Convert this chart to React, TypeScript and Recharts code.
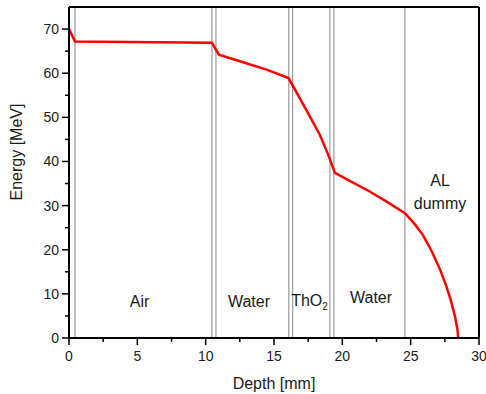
import { Line, LineChart, ReferenceDot, ReferenceLine, XAxis, YAxis } from "recharts";

const depth = [0, 0.44, 10.46, 10.97, 12.5, 14.46, 16.06, 17.2, 18.36, 18.97, 19.46, 22.0, 23.24, 24.58, 25.3, 25.92, 26.55, 27.14, 27.6, 27.95, 28.25, 28.42, 28.48];
const energy = [70, 67.2, 66.9, 64.2, 62.7, 60.8, 58.9, 52.6, 46.0, 41.5, 37.4, 33.2, 30.9, 28.3, 25.8, 23.2, 19.6, 15.6, 11.8, 8.4, 4.8, 2.0, 0];

const boundaries = [0.44, 10.46, 10.75, 16.08, 16.36, 19.09, 19.38, 24.58];
const xTicks = [0, 2.5, 5, 7.5, 10, 12.5, 15, 17.5, 20, 22.5, 25, 27.5, 30];
const yTicks = [0, 5, 10, 15, 20, 25, 30, 35, 40, 45, 50, 55, 60, 65, 70];

const data = depth.map((d, i) => ({ depth: d, energy: energy[i] }));

const FONT = "'Liberation Sans', Arial, sans-serif";
const INK = "#1a1a1a";

function XTick({ x, y, payload }: any) {
  const major = payload.value % 5 === 0;
  return (
    <g>
      <line x1={x} x2={x} y1={y} y2={y + (major ? 7 : 4)} stroke="#000" strokeWidth={1.5} />
      {major && (
        <text x={x} y={y + 18} textAnchor="middle" dominantBaseline="central" fontSize={14} fill={INK} fontFamily={FONT}>
          {payload.value}
        </text>
      )}
    </g>
  );
}

function YTick({ x, y, payload }: any) {
  const major = payload.value % 10 === 0;
  return (
    <g>
      <line x1={x} x2={x - (major ? 7 : 4)} y1={y} y2={y} stroke="#000" strokeWidth={1.5} />
      {major && (
        <text x={x - 10} y={y} textAnchor="end" dominantBaseline="central" fontSize={14} fill={INK} fontFamily={FONT}>
          {payload.value}
        </text>
      )}
    </g>
  );
}

function TextLabel({ viewBox, text, sub }: any) {
  const cx = viewBox.x + viewBox.width / 2;
  const cy = viewBox.y + viewBox.height / 2;
  return (
    <text x={cx} y={cy} textAnchor="middle" dominantBaseline="central" fontSize={16} fill={INK} fontFamily={FONT}>
      {text}
      {sub && (
        <tspan fontSize={10} dy={5}>
          {sub}
        </tspan>
      )}
    </text>
  );
}

const dotProps = { r: 1, fill: "none", stroke: "none" };

export default function App() {
  return (
    <div style={{ position: "absolute", left: 0, top: 0 }}>
      <LineChart width={486} height={394} data={data} margin={{ top: 7, right: 7, bottom: 0, left: 0 }}>
        <XAxis
          dataKey="depth"
          type="number"
          domain={[0, 30]}
          ticks={xTicks}
          interval={0}
          height={56}
          tickSize={0}
          tickMargin={0}
          tickLine={false}
          axisLine={{ stroke: "#000", strokeWidth: 2 }}
          tick={<XTick />}
          label={{ value: "Depth [mm]", position: "insideBottom", offset: 5, fontSize: 16, fill: INK, fontFamily: FONT }}
        />
        <YAxis
          type="number"
          domain={[0, 75]}
          ticks={yTicks}
          interval={0}
          width={69}
          tickSize={0}
          tickMargin={0}
          tickLine={false}
          axisLine={{ stroke: "#000", strokeWidth: 2 }}
          tick={<YTick />}
          label={{
            content: () => (
              <text x={16} y={152} transform="rotate(-90 16 152)" textAnchor="middle" dominantBaseline="central" fontSize={16} fill={INK} fontFamily={FONT}>
                Energy [MeV]
              </text>
            ),
          }}
        />
        {boundaries.map((b) => (
          <ReferenceLine key={b} x={b} stroke="#a0a0a0" strokeWidth={1.3} />
        ))}
        <ReferenceLine y={75} stroke="#000" strokeWidth={2} />
        <ReferenceLine x={30} stroke="#000" strokeWidth={2} />
        <ReferenceDot x={5.16} y={8.2} {...dotProps} label={<TextLabel text="Air" />} />
        <ReferenceDot x={13.17} y={8.2} {...dotProps} label={<TextLabel text="Water" />} />
        <ReferenceDot x={17.6} y={8.4} {...dotProps} label={<TextLabel text="ThO" sub="2" />} />
        <ReferenceDot x={22.1} y={9.1} {...dotProps} label={<TextLabel text="Water" />} />
        <ReferenceDot x={27.15} y={35.7} {...dotProps} label={<TextLabel text="AL" />} />
        <ReferenceDot x={27.15} y={30.4} {...dotProps} label={<TextLabel text="dummy" />} />
        <Line
          type="linear"
          dataKey="energy"
          stroke="#ff0000"
          strokeWidth={2.5}
          dot={false}
          isAnimationActive={false}
        />
      </LineChart>
    </div>
  );
}
